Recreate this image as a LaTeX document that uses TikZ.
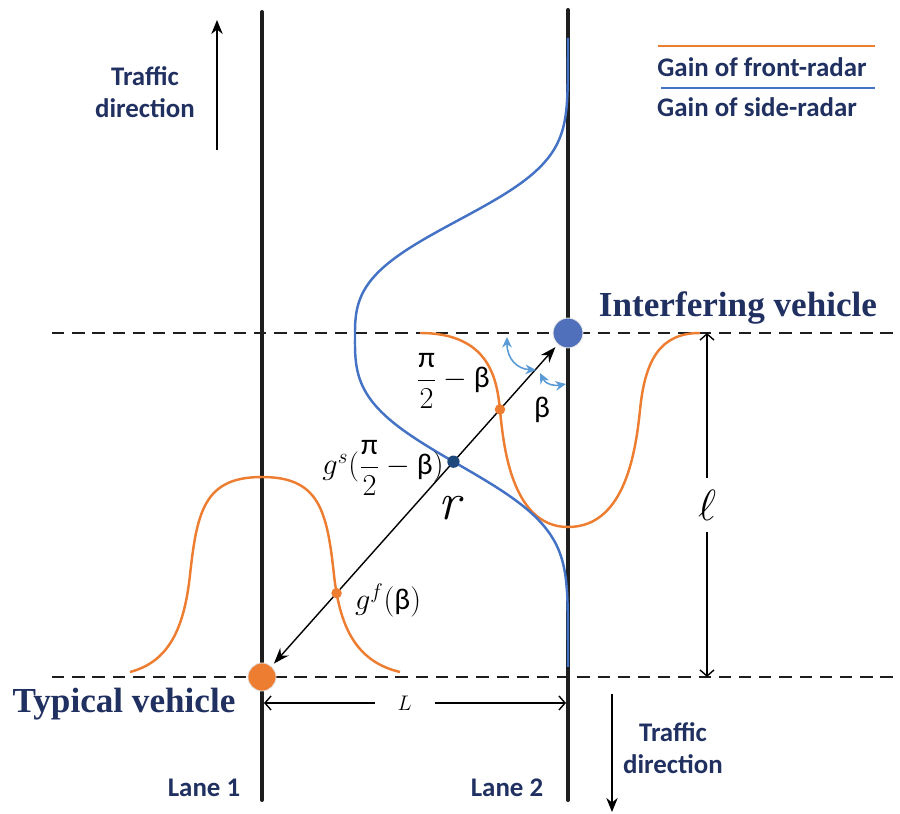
\documentclass[tikz,border=0pt]{standalone}
\usepackage{amsmath}
\usepackage{fontspec}
\usetikzlibrary{arrows.meta, intersections}
\newfontfamily\labelfont{Carlito}
\newfontfamily\namefont{Liberation Serif}
\definecolor{frontorange}{RGB}{237,125,49}
\definecolor{sideblue}{RGB}{68,114,196}
\definecolor{carblue}{RGB}{80,112,188}
\definecolor{anglecyan}{RGB}{91,155,213}
\definecolor{dotblue}{RGB}{31,73,125}
\definecolor{textnavy}{RGB}{32,48,96}
\definecolor{lanegray}{RGB}{30,30,30}

\begin{document}
\begin{tikzpicture}[x=0.02cm, y=-0.02cm,
    lane/.style={draw=lanegray, line width=2.3pt, line cap=round},
    gapline/.style={draw=lanegray, line width=0.9pt, dash pattern=on 7pt off 4.5pt},
    frontgain/.style={draw=frontorange, line width=1.4pt},
    sidegain/.style={draw=sideblue, line width=1.4pt},
    vehicle/.style={circle, inner sep=0pt, minimum size=16pt, draw=white!80!gray, line width=0.5pt},
    gdot/.style={circle, inner sep=0pt, minimum size=6pt},
    ray/.style={{Stealth[length=9pt,width=6.5pt]}-{Stealth[length=9pt,width=6.5pt]}, line width=0.8pt, shorten <=2pt, shorten >=2pt},
    dim/.style={{Straight Barb[length=3.5pt,width=8pt]}-{Straight Barb[length=3.5pt,width=8pt]}, line width=0.8pt},
    flow/.style={-{Stealth[length=8pt,width=6.5pt]}, line width=1pt},
    angarrow/.style={{Stealth[length=6pt,width=5.5pt]}-{Stealth[length=6pt,width=5.5pt]}, draw=anglecyan, line width=0.9pt},
    lbl/.style={font={\labelfont\bfseries\fontsize{15.3}{18.6}\selectfont}, text=textnavy, align=center},
    vname/.style={font={\namefont\bfseries\fontsize{20}{22}\selectfont}, text=textnavy},
    gain/.style={font={\labelfont\fontsize{17}{20}\selectfont}}
]
    \useasboundingbox (0,0) rectangle (900,814);

    \draw[gapline] (52,333) -- (900,333);
    \draw[gapline] (52,677) -- (900,677);
    \draw[lane] (262,12) -- (262,800);
    \draw[lane] (568,10) -- (568,800);

    \draw[frontgain, name path=bell] (130,672) .. controls (168,662) and (184,630) .. (190,575)
        .. controls (197,510) and (205,477) .. (262,477)
        .. controls (319,477) and (327,510) .. (334,575)
        .. controls (340,630) and (358,662) .. (400,672);
    \draw[frontgain, name path=sweep] (420,333) .. controls (490,333) and (497,380) .. (500,410)
        .. controls (503,440) and (510,527) .. (568,527)
        .. controls (622,527) and (635,460) .. (640,410)
        .. controls (645,360) and (660,333) .. (700,333);
    \draw[sidegain, name path=side] plot[domain=38:667, samples=160, smooth]
        ({568-213*exp(-(abs(\x-338)/ifthenelse(\x<338,135,145))^3)}, \x);

    \node[vehicle, fill=frontorange] (tv) at (262,677) {};
    \node[vehicle, fill=carblue, minimum size=17pt] (iv) at (568,333) {};
    \draw[ray, name path=ray] (tv) -- (iv);

    \path[name intersections={of=ray and bell, by=pf}];
    \path[name intersections={of=ray and sweep, by=pg}];
    \path[name intersections={of=ray and side, by=ps}];
    \node[gdot, fill=frontorange] (gfdot) at (pf) {};
    \node[gdot, fill=frontorange] (gadot) at (pg) {};
    \node[gdot, fill=dotblue, minimum size=7pt] (gsdot) at (ps) {};

    \coordinate (a1s) at (507,337);
    \coordinate (a1e) at (536,370);
    \coordinate (a2s) at (540,373);
    \coordinate (a2e) at (566,384);
    \draw[angarrow] (a1s) .. controls (507,360) and (518,369) .. (a1e);
    \draw[angarrow] (a2s) .. controls (546,385) and (555,386) .. (a2e);

    \node[gain] (compl) at (453,381) {$\dfrac{\text{π}}{2}-\text{β}$};
    \node[gain] (beta) at (542,410) {β};
    \node[gain] (gslbl) at (383,468) {$g^{s}(\dfrac{\text{π}}{2}-\text{β})$};
    \node[gain] (gflbl) at (388,600) {$g^{f}(\text{β})$};
    \node[font=\fontsize{30}{32}\selectfont\itshape] (rlbl) at (449,508) {r};

    \coordinate (ltop) at (707,333);
    \coordinate (lbot) at (707,677);
    \draw[dim] (ltop) -- (lbot) node[midway, fill=white, inner ysep=7pt, font=\fontsize{24.88}{28}\selectfont] (ell) {$\ell$};
    \coordinate (wleft) at (264,703);
    \coordinate (wright) at (566,703);
    \draw[dim] (wleft) -- (wright) node[pos=0.466, fill=white, inner xsep=13pt, font=\fontsize{13}{15}\selectfont] (wlbl) {$L$};

    \coordinate (upfrom) at (217,150);
    \coordinate (upto) at (217,20);
    \draw[flow] (upfrom) -- (upto);
    \coordinate (downfrom) at (612,694);
    \coordinate (downto) at (612,812);
    \draw[flow] (downfrom) -- (downto);

    \node[lbl] (dirup) at (145,92) {Traffic\\direction};
    \node[lbl] (dirdown) at (673,748) {Traffic\\direction};
    \node[lbl] (lane1) at (204,788) {Lane 1};
    \node[lbl] (lane2) at (507,788) {Lane 2};

    \draw[frontgain] (658,46) -- (875,46);
    \node[lbl] (legf) at (762,67) {Gain of front-radar};
    \draw[sidegain] (661,88) -- (875,88);
    \node[lbl] (legs) at (757,107) {Gain of side-radar};

    \node[vname] (ivname) at (738,308) {Interfering vehicle};
    \node[vname] (tvname) at (124,704) {Typical vehicle};
\end{tikzpicture}
\end{document}
